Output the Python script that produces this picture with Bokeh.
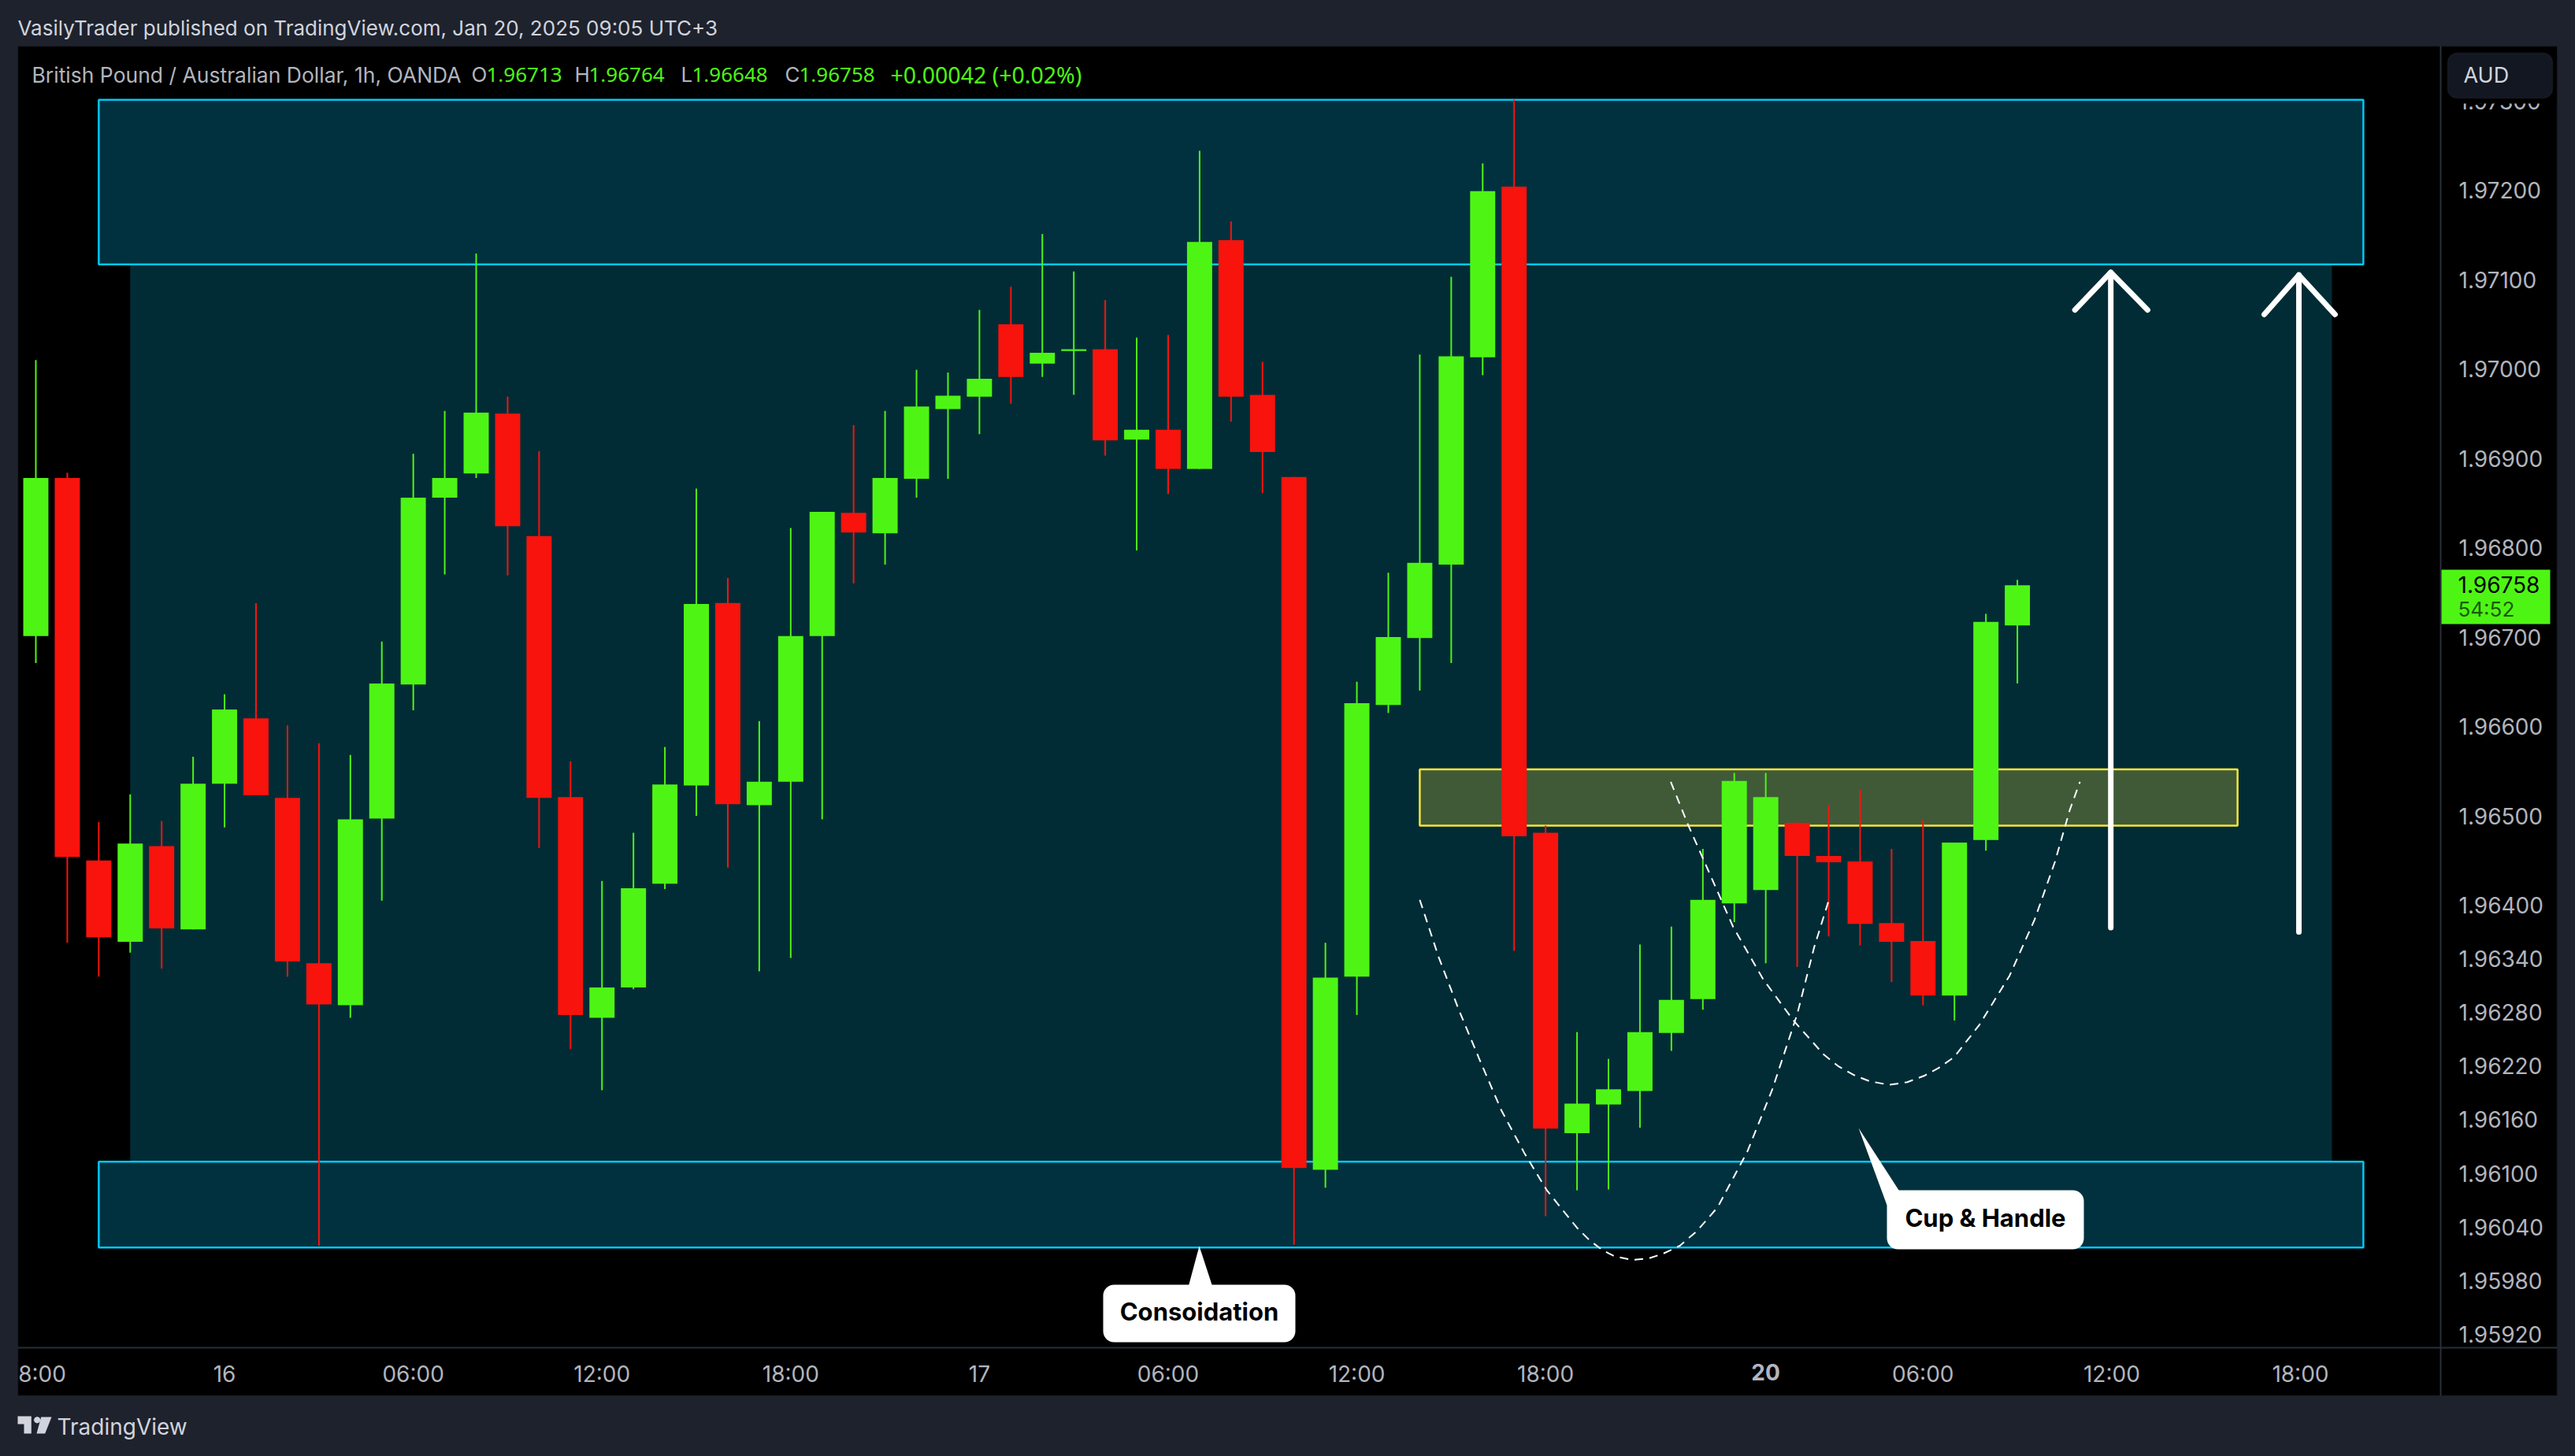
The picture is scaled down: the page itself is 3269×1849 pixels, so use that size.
from bokeh.plotting import figure
from bokeh.models import (BoxAnnotation, Label, PolyAnnotation, FixedTicker,
                          NumeralTickFormatter, ColumnDataSource)
from bokeh.embed import file_html
from bokeh.resources import INLINE

# ---- chart values -------------------------------------------------------
open_ = [1.96701,1.96878,1.96450,1.96359,1.96466,1.96373,1.96536,1.96609,1.96520,1.96335,
         1.96288,1.96497,1.96647,1.96856,1.96883,1.96950,1.96813,1.96521,1.96274,1.96308,
         1.96424,1.96534,1.96738,1.96512,1.96538,1.96701,1.96839,1.96816,1.96877,1.96955,
         1.96969,1.97050,1.97006,1.97020,1.97022,1.96921,1.96932,1.96888,1.97144,1.96971,
         1.96879,1.96104,1.96320,1.96624,1.96699,1.96781,1.97013,1.97204,1.96481,1.96145,
         1.96177,1.96192,1.96257,1.96295,1.96402,1.96417,1.96492,1.96455,1.96449,1.96380,
         1.96360,1.96299,1.96473,1.96713]
high = [1.97010,1.96884,1.96493,1.96524,1.96494,1.96566,1.96636,1.96738,1.96601,1.96581,
        1.96568,1.96695,1.96905,1.96953,1.97129,1.96969,1.96908,1.96561,1.96427,1.96481,
        1.96577,1.96866,1.96766,1.96606,1.96822,1.96840,1.96937,1.96953,1.96999,1.96996,
        1.97066,1.97092,1.97151,1.97109,1.97077,1.97035,1.97038,1.97244,1.97165,1.97008,
        1.96879,1.96358,1.96650,1.96772,1.97016,1.97103,1.97230,1.97301,1.96489,1.96258,
        1.96228,1.96356,1.96376,1.96463,1.96548,1.96548,1.96493,1.96512,1.96529,1.96463,
        1.96495,1.96470,1.96726,1.96764]
low = [1.96671,1.96358,1.96320,1.96347,1.96329,1.96373,1.96487,1.96523,1.96320,1.96019,
       1.96274,1.96405,1.96618,1.96770,1.96878,1.96769,1.96464,1.96239,1.96193,1.96306,
       1.96418,1.96500,1.96442,1.96326,1.96341,1.96496,1.96760,1.96781,1.96856,1.96877,
       1.96927,1.96961,1.96991,1.96971,1.96903,1.96797,1.96860,1.96888,1.96941,1.96861,
       1.96020,1.96084,1.96277,1.96615,1.96640,1.96671,1.96993,1.96349,1.96052,1.96081,
       1.96082,1.96151,1.96237,1.96283,1.96381,1.96335,1.96331,1.96365,1.96355,1.96314,
       1.96288,1.96271,1.96461,1.96648]
close = [1.96878,1.96454,1.96364,1.96469,1.96374,1.96536,1.96619,1.96523,1.96337,1.96289,
         1.96496,1.96648,1.96856,1.96878,1.96951,1.96824,1.96520,1.96277,1.96308,1.96419,
         1.96535,1.96737,1.96513,1.96538,1.96701,1.96840,1.96817,1.96878,1.96958,1.96970,
         1.96989,1.96991,1.97018,1.97022,1.96920,1.96932,1.96888,1.97142,1.96969,1.96907,
         1.96106,1.96319,1.96626,1.96700,1.96783,1.97014,1.97199,1.96477,1.96150,1.96178,
         1.96194,1.96258,1.96294,1.96406,1.96539,1.96521,1.96455,1.96448,1.96379,1.96359,
         1.96299,1.96470,1.96717,1.96758]

price_ticks = [1.9592,1.9598,1.9604,1.9610,1.9616,1.9622,1.9628,1.9634,1.9640,1.9650,
               1.9660,1.9670,1.9680,1.9690,1.9700,1.9710,1.9720,1.9730]
time_ticks = [0.2,6,12,18,24,30,36,42,48,60,66,72]
time_labels = ["8:00","16","06:00","12:00","18:00","17","06:00","12:00","18:00","06:00","12:00","18:00"]

# zones: left bar, right bar, top price, bottom price
teal_zone = (3, 73, 1.97301, 1.96017)
cyan_upper = (2, 74, 1.97301, 1.97117)
cyan_lower = (2, 74, 1.96113, 1.96017)
yellow_zone = (44, 70, 1.96552, 1.96489)

cup_x = [44.0,44.6,45.24,45.88,46.6,47.32,48.04,49.0,49.4,49.81,50.2,50.77,51.3,51.73,52.27,52.8,53.47,54.41,55.2,56.0,56.54,57.0]
cup_y = [1.96406,1.96342,1.96283,1.96229,1.96170,1.96123,1.96081,1.96039,1.96025,1.96014,1.96007,1.96003,1.96005,1.96010,1.96019,1.96035,1.96062,1.96124,1.96193,1.96278,1.96353,1.96405]
handle_x = [51.98,52.53,53.17,53.96,54.92,55.88,56.84,57.3,57.8,58.3,58.92,59.5,60.03,60.5,60.99,61.79,62.75,63.55,64.19,64.67,64.99]
handle_y = [1.96538,1.96490,1.96439,1.96376,1.96317,1.96271,1.96233,1.96220,1.96210,1.96203,1.96199,1.96202,1.96209,1.96218,1.96230,1.96266,1.96321,1.96384,1.96448,1.96507,1.96538]

arrow1_x = [65.97,65.97]; arrow1_y = [1.96375,1.97108]
head1_x = [64.83,65.97,67.14]; head1_y = [1.97066,1.97108,1.97066]
arrow2_x = [71.95,71.95]; arrow2_y = [1.96370,1.97105]
head2_x = [70.85,71.95,73.1]; head2_y = [1.97061,1.97105,1.97061]

# ---- helpers: page pixels of the reference -> chart coordinates ----------
def X(px): return (px - 45) / 39.93
def Y(py): return 1.972 + (241 - py) / 113500

BG = "#1e222d"; BORDER = "#2a2e39"; GREEN = "#4ef514"; RED = "#f8130d"
TXT = "#d1d4dc"; AXT = "#b2b5be"; FONT = "Inter"; NUM = "Noto Sans"

p = figure(width=3269, height=1849, output_backend="svg", toolbar_location=None,
           x_range=(X(0), X(3269)), y_range=(Y(1849), Y(0)),
           y_axis_location="right", min_border=0,
           background_fill_color=BG, border_fill_color=BG, outline_line_color=None)
p.grid.visible = False

# pane behind axes
p.add_layout(BoxAnnotation(left=X(22), right=X(3246), top=Y(58), bottom=Y(1772), level="underlay",
                           fill_color="black", fill_alpha=1, line_color=BORDER, line_width=2))

for ax in (p.xaxis[0], p.yaxis[0]):
    ax.axis_line_color = BORDER
    ax.axis_line_width = 2
    ax.major_tick_line_color = None
    ax.minor_tick_line_color = None
    ax.major_tick_out = 0
    ax.major_tick_in = 0
    ax.minor_tick_out = 0
    ax.major_label_text_color = AXT
    ax.major_label_text_font = FONT
    ax.major_label_text_font_size = "28px"
p.yaxis[0].fixed_location = X(3098)
p.yaxis[0].bounds = (Y(1772), Y(58))
p.xaxis[0].fixed_location = Y(1711)
p.xaxis[0].bounds = (X(22), X(3246))
p.yaxis.ticker = FixedTicker(ticks=price_ticks)
p.yaxis.formatter = NumeralTickFormatter(format="0.00000")
p.yaxis.major_label_standoff = 23
p.xaxis.ticker = FixedTicker(ticks=time_ticks)
p.xaxis.major_label_overrides = dict(zip(time_ticks, time_labels))
p.xaxis.major_label_standoff = 16

# zones
p.quad(left=teal_zone[0], right=teal_zone[1], top=teal_zone[2], bottom=teal_zone[3],
       fill_color="#012c35", line_color=None)
for z in (cyan_upper, cyan_lower):
    p.quad(left=z[0], right=z[1], top=z[2], bottom=z[3], fill_color="#01313e",
           line_color="#00c8f5", line_width=2.5)
p.quad(left=yellow_zone[0], right=yellow_zone[1], top=yellow_zone[2], bottom=yellow_zone[3],
       fill_color="#405a38", line_color="#f6e43a", line_width=2.5)

# candles
idx = list(range(len(open_)))
colors = [GREEN if c >= o else RED for o, c in zip(open_, close)]
src = ColumnDataSource(dict(x=idx, o=open_, h=high, l=low, c=close, color=colors,
                            top=[max(a, b) for a, b in zip(open_, close)],
                            bot=[min(a, b) for a, b in zip(open_, close)]))
p.segment(x0="x", y0="h", x1="x", y1="l", color="color", line_width=2, source=src)
p.vbar(x="x", width=0.8, top="top", bottom="bot", fill_color="color", line_color=None, source=src)

# pattern curves
p.line(cup_x, cup_y, line_color="white", line_width=2, line_dash="11 8")
p.line(handle_x, handle_y, line_color="white", line_width=2, line_dash="11 8")

# arrows
for xs, ys in ((arrow1_x, arrow1_y), (head1_x, head1_y), (arrow2_x, arrow2_y), (head2_x, head2_y)):
    p.line(xs, ys, line_color="white", line_width=7, line_cap="round", line_join="round")

# callout tails
p.patch([X(1508), X(1522), X(1539)], [Y(1634), Y(1582), Y(1634)], fill_color="white", line_color=None)
p.patch([X(2359), X(2412), X(2395)], [Y(1432), Y(1514), Y(1530)], fill_color="white", line_color=None)
# callout bodies
p.add_layout(BoxAnnotation(left=X(1400), right=X(1644), top=Y(1631), bottom=Y(1704), fill_color="white",
                           fill_alpha=1, line_color=None, border_radius=14))
p.add_layout(BoxAnnotation(left=X(2395), right=X(2645), top=Y(1511), bottom=Y(1586), fill_color="white",
                           fill_alpha=1, line_color=None, border_radius=14))

def label(px, py, text, color=TXT, size=27, align="left", bold=False, font=FONT):
    p.add_layout(Label(x=X(px), y=Y(py), text=text, text_color=color, text_font=font,
                       text_font_size=f"{size}px", text_align=align, text_baseline="middle",
                       text_font_style="bold" if bold else "normal", level="overlay"))

label(1522, 1665, "Consoidation", "#000000", 31, "center", True)
label(2520, 1546, "Cup & Handle", "#000000", 31, "center", True)

# price axis overlays
p.add_layout(BoxAnnotation(left=X(3100), right=X(3245), top=Y(60), bottom=Y(131), fill_color="black",
                           fill_alpha=1, line_color=None, level="overlay"))
p.add_layout(BoxAnnotation(left=X(3107), right=X(3240), top=Y(67), bottom=Y(124), fill_color="#131722",
                           fill_alpha=1, line_color=BORDER, line_width=2, border_radius=12, level="overlay"))
label(3127, 95, "AUD", TXT, 27)
p.add_layout(BoxAnnotation(left=X(3099), right=X(3237), top=Y(723), bottom=Y(792), fill_color=GREEN,
                           fill_alpha=1, line_color=None, level="overlay"))
label(3120, 742, "1.96758", "#000000", 28)
label(3120, 773, "54:52", "#1a5a08", 26)

# time axis bold date
label(2241, 1742, "20", AXT, 28, "center", True)

# header, legend
label(22, 35, "VasilyTrader published on TradingView.com, Jan 20, 2025 09:05 UTC+3", TXT, 26)
label(40, 94, "British Pound / Australian Dollar, 1h, OANDA", AXT, 26.5)
for px, t, c, f, s in ((598, "O", AXT, FONT, 26), (617, "1.96713", GREEN, NUM, 26), (729, "H", AXT, FONT, 26), (747, "1.96764", GREEN, NUM, 26),
                       (864, "L", AXT, FONT, 26), (878, "1.96648", GREEN, NUM, 26), (996, "C", AXT, FONT, 26), (1014, "1.96758", GREEN, NUM, 26),
                       (1130, "+0.00042 (+0.02%)", GREEN, NUM, 28.5)):
    label(px, 94, t, c, s, font=f)

# footer brand
label(72, 1811, "TradingView", TXT, 28)
for xs, ys in (((22, 39.3, 39.3, 30, 30, 22), (1798, 1798, 1820, 1820, 1808, 1808)),
               ((51.7, 65, 56.7, 46), (1799, 1799, 1820, 1820)),
               ((42.4, 43.7, 46.7, 49.7, 51, 49.7, 46.7, 43.7), (1802.7, 1799.7, 1798.4, 1799.7, 1802.7, 1805.7, 1807, 1805.7))):
    p.add_layout(PolyAnnotation(xs=[X(v) for v in xs], ys=[Y(v) for v in ys], fill_color=TXT,
                                fill_alpha=1, line_color=None, level="overlay"))

html = file_html(p, INLINE)
html = html.replace("<body>", '<body style="background:#1e222d;overflow:hidden">')
open("out.html", "w").write(html)
